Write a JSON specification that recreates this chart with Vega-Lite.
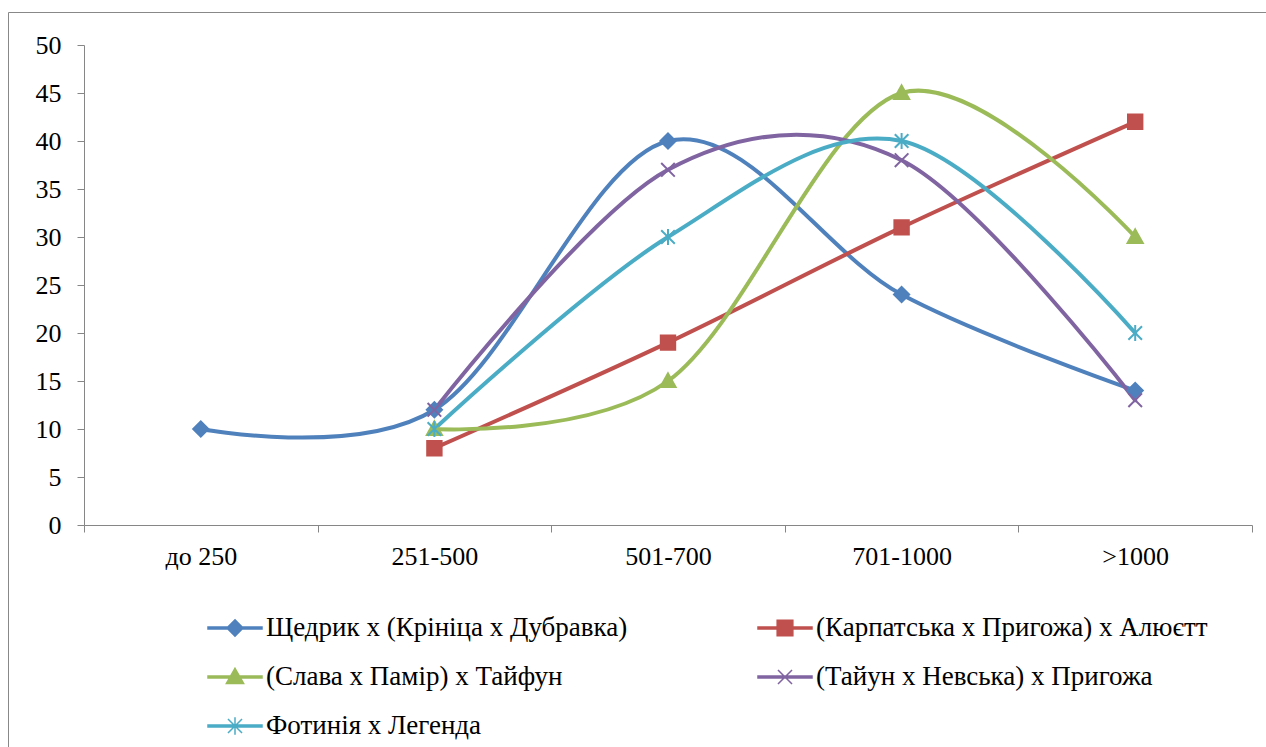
{
  "$schema": "https://vega.github.io/schema/vega-lite/v6.json",
  "width": 1258,
  "height": 735,
  "autosize": {"type": "none"},
  "padding": {"left": 8, "top": 12, "right": 0, "bottom": 0},
  "background": "white",
  "config": {
    "view": {"stroke": "#888888", "strokeWidth": 1},
    "font": "Liberation Serif"
  },
  "data": {
    "values": [
      {"series": "Щедрик х (Крініца х Дубравка)", "cat": "до 250", "value": 10},
      {"series": "Щедрик х (Крініца х Дубравка)", "cat": "251-500", "value": 12},
      {"series": "Щедрик х (Крініца х Дубравка)", "cat": "501-700", "value": 40},
      {"series": "Щедрик х (Крініца х Дубравка)", "cat": "701-1000", "value": 24},
      {"series": "Щедрик х (Крініца х Дубравка)", "cat": ">1000", "value": 14},
      {"series": "(Карпатська х Пригожа) х Алюєтт", "cat": "251-500", "value": 8},
      {"series": "(Карпатська х Пригожа) х Алюєтт", "cat": "501-700", "value": 19},
      {"series": "(Карпатська х Пригожа) х Алюєтт", "cat": "701-1000", "value": 31},
      {"series": "(Карпатська х Пригожа) х Алюєтт", "cat": ">1000", "value": 42},
      {"series": "(Слава х Памір) х Тайфун", "cat": "251-500", "value": 10},
      {"series": "(Слава х Памір) х Тайфун", "cat": "501-700", "value": 15},
      {"series": "(Слава х Памір) х Тайфун", "cat": "701-1000", "value": 45},
      {"series": "(Слава х Памір) х Тайфун", "cat": ">1000", "value": 30},
      {"series": "(Тайун х Невська) х Пригожа", "cat": "251-500", "value": 12},
      {"series": "(Тайун х Невська) х Пригожа", "cat": "501-700", "value": 37},
      {"series": "(Тайун х Невська) х Пригожа", "cat": "701-1000", "value": 38},
      {"series": "(Тайун х Невська) х Пригожа", "cat": ">1000", "value": 13},
      {"series": "Фотинія х Легенда", "cat": "251-500", "value": 10},
      {"series": "Фотинія х Легенда", "cat": "501-700", "value": 30},
      {"series": "Фотинія х Легенда", "cat": "701-1000", "value": 40},
      {"series": "Фотинія х Легенда", "cat": ">1000", "value": 20}
    ]
  },
  "encoding": {
    "x": {
      "field": "cat",
      "type": "nominal",
      "bandPosition": 0.5,
      "scale": {
        "type": "band",
        "domain": ["до 250", "251-500", "501-700", "701-1000", ">1000"],
        "range": [76, 1244],
        "paddingInner": 0,
        "paddingOuter": 0
      },
      "axis": {
        "orient": "bottom",
        "offset": -222,
        "title": null,
        "tickBand": "extent",
        "tickSize": 7,
        "tickColor": "#868686",
        "domainColor": "#868686",
        "labelAngle": 0,
        "labelFont": "Liberation Serif",
        "labelFontSize": 26,
        "labelColor": "#000000",
        "labelPadding": 11,
        "grid": false
      }
    },
    "y": {
      "field": "value",
      "type": "quantitative",
      "scale": {"domain": [0, 50], "range": [513, 33], "nice": false, "zero": true},
      "axis": {
        "orient": "left",
        "offset": -76,
        "title": null,
        "values": [0, 5, 10, 15, 20, 25, 30, 35, 40, 45, 50],
        "tickSize": 7,
        "tickColor": "#868686",
        "domainColor": "#868686",
        "labelFont": "Liberation Serif",
        "labelFontSize": 26,
        "labelColor": "#000000",
        "labelPadding": 16,
        "grid": false
      }
    }
  },
  "layer": [
    {
      "mark": {"type": "line", "interpolate": "cardinal", "strokeWidth": 4, "strokeJoin": "round", "strokeCap": "round"},
      "encoding": {
        "color": {
          "field": "series",
          "type": "nominal",
          "scale": {
            "domain": ["Щедрик х (Крініца х Дубравка)", "(Карпатська х Пригожа) х Алюєтт", "(Слава х Памір) х Тайфун", "(Тайун х Невська) х Пригожа", "Фотинія х Легенда"],
            "range": ["#4F81BD", "#C0504D", "#9BBB59", "#8064A2", "#4BACC6"]
          },
          "legend": {
            "title": null,
            "orient": "none",
            "legendX": 199,
            "legendY": 588,
            "columns": 2,
            "direction": "horizontal",
            "padding": 0,
            "columnPadding": 127,
            "rowPadding": 8,
            "symbolSize": 2916,
            "symbolStrokeWidth": 1.5,
            "symbolOpacity": 1,
            "labelOffset": 3,
            "labelFont": "Liberation Serif",
            "labelFontSize": 27,
            "labelColor": "#000000",
            "labelLimit": 0
          }
        }
      }
    },
    {
      "mark": {"type": "point", "filled": true, "opacity": 1, "size": 0},
      "encoding": {
        "shape": {
          "field": "series",
          "type": "nominal",
          "scale": {
            "domain": ["Щедрик х (Крініца х Дубравка)", "(Карпатська х Пригожа) х Алюєтт", "(Слава х Памір) х Тайфун", "(Тайун х Невська) х Пригожа", "Фотинія х Легенда"],
            "range": [
              "M-1,-0.04L1,-0.04L1,0.04L-1,0.04Z M0,-0.3L0.3,0L0,0.3L-0.3,0Z",
              "M-1,-0.04L1,-0.04L1,0.04L-1,0.04Z M-0.29,-0.29L0.29,-0.29L0.29,0.29L-0.29,0.29Z",
              "M-1,-0.04L1,-0.04L1,0.04L-1,0.04Z M0,-0.32L0.32,0.24L-0.32,0.24Z",
              "M-1,-0.04L1,-0.04L1,0.04L-1,0.04Z M-0.26,-0.26L0.26,0.26 M-0.26,0.26L0.26,-0.26",
              "M-1,-0.04L1,-0.04L1,0.04L-1,0.04Z M-0.26,-0.26L0.26,0.26 M-0.26,0.26L0.26,-0.26 M0,-0.32L0,0.32"
            ]
          },
          "legend": null
        },
        "fill": {
          "field": "series",
          "type": "nominal",
          "scale": {
            "domain": ["Щедрик х (Крініца х Дубравка)", "(Карпатська х Пригожа) х Алюєтт", "(Слава х Памір) х Тайфун", "(Тайун х Невська) х Пригожа", "Фотинія х Легенда"],
            "range": ["#4F81BD", "#C0504D", "#9BBB59", "#8064A2", "#4BACC6"]
          },
          "legend": null
        },
        "stroke": {
          "field": "series",
          "type": "nominal",
          "scale": {
            "domain": ["Щедрик х (Крініца х Дубравка)", "(Карпатська х Пригожа) х Алюєтт", "(Слава х Памір) х Тайфун", "(Тайун х Невська) х Пригожа", "Фотинія х Легенда"],
            "range": ["#4F81BD", "#C0504D", "#9BBB59", "#8064A2", "#4BACC6"]
          },
          "legend": null
        }
      }
    },
    {
      "mark": {
        "type": "point",
        "filled": true,
        "opacity": 1,
        "strokeWidth": 2,
        "size": 256,
        "shape": {"expr": "['M0,-0.95L0.95,0L0,0.95L-0.95,0Z', 'M-0.9,-0.9L0.9,-0.9L0.9,0.9L-0.9,0.9Z', 'M0,-0.95L0.95,0.75L-0.95,0.75Z', 'M-0.85,-0.85L0.85,0.85M-0.85,0.85L0.85,-0.85', 'M-0.85,-0.85L0.85,0.85M-0.85,0.85L0.85,-0.85M0,-1L0,1'][indexof(['Щедрик х (Крініца х Дубравка)', '(Карпатська х Пригожа) х Алюєтт', '(Слава х Памір) х Тайфун', '(Тайун х Невська) х Пригожа', 'Фотинія х Легенда'], datum.series)]"}
      },
      "encoding": {
        "fill": {"field": "series", "type": "nominal", "legend": null},
        "stroke": {"field": "series", "type": "nominal", "legend": null}
      }
    }
  ]
}
